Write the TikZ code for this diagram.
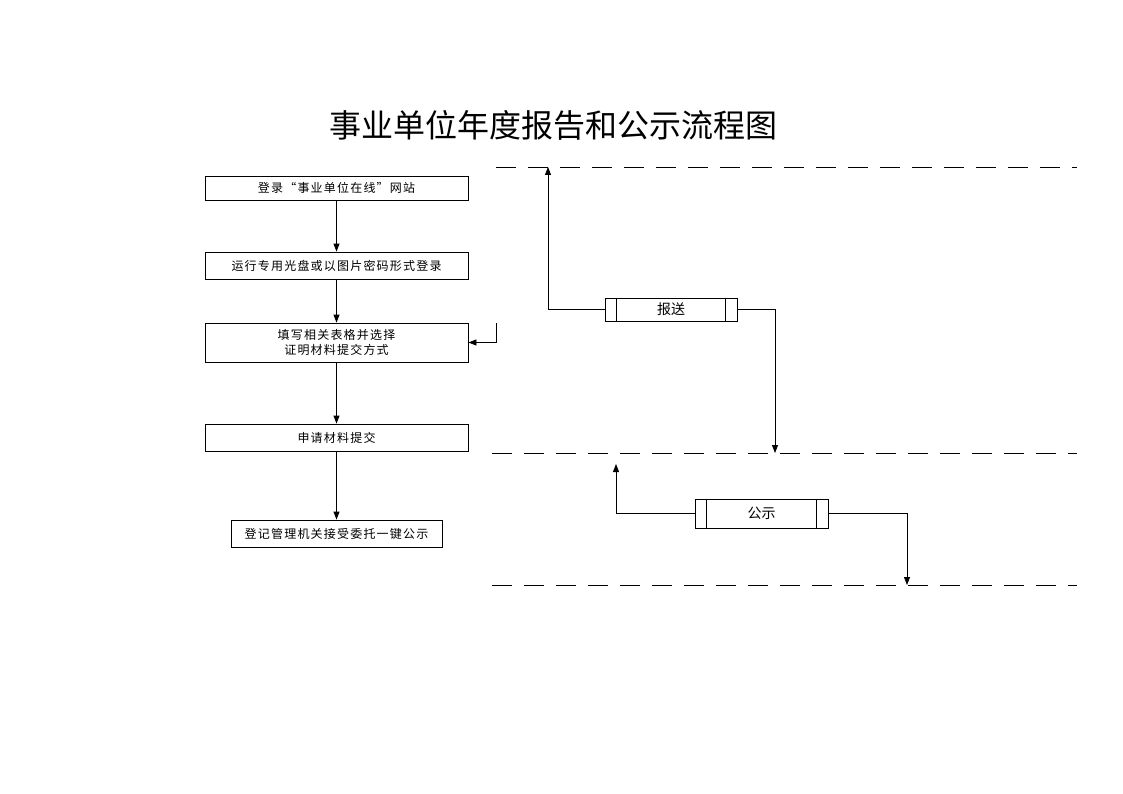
\documentclass[tikz,border=0pt]{standalone}
\usepackage{fontspec}
\setmainfont{Noto Sans CJK SC}
\newfontfamily\spacedcjk[LetterSpace=10]{Noto Sans CJK SC}
\usetikzlibrary{arrows.meta}
\begin{document}
\begin{tikzpicture}[x=1pt,y=-1pt,
  stepbox/.style={draw,line width=0.8pt,inner sep=0pt,font=\spacedcjk\fontsize{12}{15}\selectfont,align=center},
  flow/.style={draw,line width=0.8pt,-{Triangle[length=8pt,width=6pt]}},
  sep/.style={line width=0.9pt,dash pattern=on 20pt off 12pt},
  procbox/.style={draw,line width=0.8pt,inner sep=0pt,font=\fontsize{14}{16}\selectfont}]
\useasboundingbox (0,0) rectangle (1123,794);
\fill[white] (0,0) rectangle (1123,794);
\node (title) at (553,125) {\fontsize{32}{35}\selectfont 事业单位年度报告和公示流程图};
% left column
\node[stepbox, minimum width=263pt, minimum height=24pt] (b1) at (336.5,188) {登录“事业单位在线”网站};
\node[stepbox, minimum width=263pt, minimum height=27pt] (b2) at (336.5,265.5) {运行专用光盘或以图片密码形式登录};
\node[stepbox, minimum width=263pt, minimum height=39pt] (b3) at (336.5,342.5) {填写相关表格并选择\\证明材料提交方式};
\node[stepbox, minimum width=263pt, minimum height=27pt] (b4) at (336.5,437.5) {申请材料提交};
\node[stepbox, minimum width=211pt, minimum height=27pt] (b5) at (336.5,533.5) {登记管理机关接受委托一键公示};
\draw[flow] (b1) -- (b2);
\draw[flow] (b2) -- (b3);
\draw[flow] (b3) -- (b4);
\draw[flow] (b4) -- (b5);
\coordinate (fb) at (496,323);
\draw[flow] (fb) |- (b3.east);
% dashed separators
\coordinate (l1a) at (496,167); \coordinate (l1b) at (1077,167);
\coordinate (l2a) at (492,453); \coordinate (l2b) at (1077,453);
\coordinate (l3a) at (492,585); \coordinate (l3b) at (1077,585);
\draw[sep] (l1a) -- (l1b);
\draw[sep] (l2a) -- (l2b);
\draw[sep] (l3a) -- (l3b);
% 报送
\node[procbox, minimum width=132pt, minimum height=23pt] (bs) at (671,309.5) {报送};
\draw[line width=0.8pt] ([xshift=12pt]bs.north west) -- ([xshift=12pt]bs.south west);
\draw[line width=0.8pt] ([xshift=-12pt]bs.north east) -- ([xshift=-12pt]bs.south east);
\coordinate (bsup) at (548,167);
\coordinate (bsdn) at (775,453);
\draw[flow] (bs.west) -| (bsup);
\draw[flow] (bs.east) -| (bsdn);
% 公示
\node[procbox, minimum width=133pt, minimum height=29pt] (gs) at (761.5,513.5) {公示};
\draw[line width=0.8pt] ([xshift=12pt]gs.north west) -- ([xshift=12pt]gs.south west);
\draw[line width=0.8pt] ([xshift=-12pt]gs.north east) -- ([xshift=-12pt]gs.south east);
\coordinate (gsup) at (616,464);
\coordinate (gsdn) at (907,585);
\draw[flow] (gs.west) -| (gsup);
\draw[flow] (gs.east) -| (gsdn);
\end{tikzpicture}
\end{document}
